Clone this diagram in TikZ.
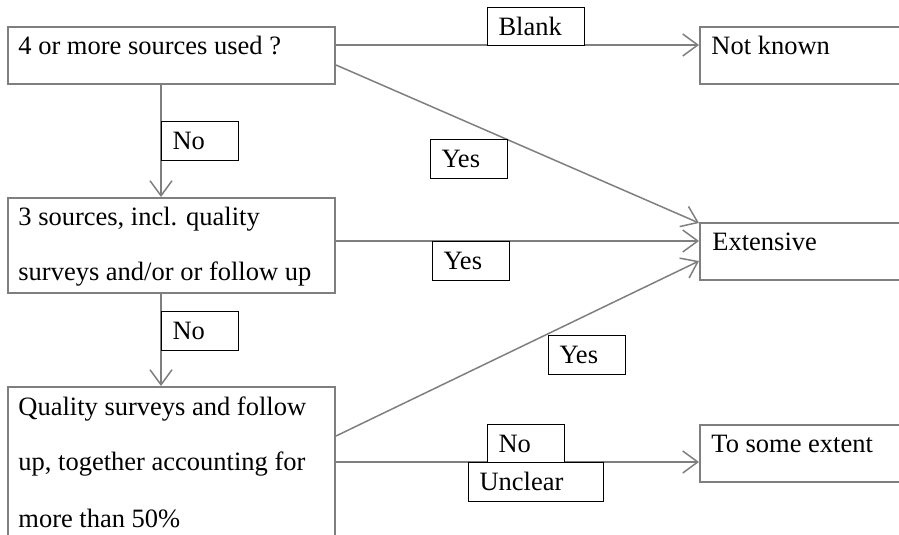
\documentclass[tikz,border=0pt]{standalone}
\usepackage{fontspec}
\setmainfont{Liberation Serif}
\usetikzlibrary{arrows.meta,calc}
\definecolor{edgegray}{HTML}{7F7F7F}
\begin{document}
\begin{tikzpicture}[x=0.5pt,y=-0.5pt,
  every node/.style={font=\fontsize{13.25pt}{15pt}\selectfont},
  bigbox/.style={draw=edgegray,line width=1pt,rectangle,anchor=north west,inner sep=0pt},
  txt/.style={anchor=base west,inner sep=0pt},
  tag/.style={draw=black,line width=0.5pt,fill=white,rectangle,anchor=north west,
    inner xsep=5.5pt,inner ysep=0pt,text height=14pt,text depth=5.25pt,
    align=left,text width=#1},
  conn/.style={draw=edgegray,line width=0.75pt,
    -{Straight Barb[length=7.5pt,width=11pt,line width=0.75pt]}}]
\useasboundingbox (0,0) rectangle (899,535);
\begin{scope}
\clip (0,0) rectangle (899,535);

% decision boxes (left column)
\node[bigbox,minimum width=163.5pt,minimum height=28.5pt] (A) at (7,26) {};
\node[bigbox,minimum width=163.5pt,minimum height=47.5pt] (B) at (7,197) {};
\node[bigbox,minimum width=163.5pt,minimum height=100pt] (C) at (7,386) {};

% outcome boxes (right column)
\node[bigbox,minimum width=200pt,minimum height=28.5pt] (NK) at (699,26) {};
\node[bigbox,minimum width=200pt,minimum height=28.5pt] (E) at (699,222) {};
\node[bigbox,minimum width=200pt,minimum height=28.5pt] (T) at (699,424) {};

% box texts
\node[txt] (tA) at ($(A.north west)+(11,29)$) {4 or more sources used ?};
\node[txt] (tB1) at ($(B.north west)+(11,28)$) {3 sources, incl. quality};
\node[txt] (tB2) at ($(B.north west)+(11,83)$) {surveys and/or or follow up};
\node[txt] (tC1) at ($(C.north west)+(11,29)$) {Quality surveys and follow};
\node[txt] (tC2) at ($(C.north west)+(11,84)$) {up, together accounting for};
\node[txt] (tC3) at ($(C.north west)+(11,141)$) {more than 50\%};
\node[txt] (tNK) at ($(NK.north west)+(12,29)$) {Not known};
\node[txt] (tE) at ($(E.north west)+(13,28)$) {Extensive};
\node[txt] (tT) at ($(T.north west)+(12,28)$) {To some extent};

% connectors
\draw[conn] ($(A.north east)+(0,19)$) -- ($(NK.north west)+(0,19)$);
\draw[conn] ($(A.north east)+(0,39)$) -- ($(E.north west)+(0,1)$);
\draw[conn] ($(A.south west)+(154,0)$) -- ($(B.north west)+(154,0)$);
\draw[conn] ($(B.north east)+(0,44)$) -- ($(E.north west)+(0,19)$);
\draw[conn] ($(B.south west)+(154,0)$) -- ($(C.north west)+(154,0)$);
\draw[conn] ($(C.north east)+(0,50)$) -- ($(E.north west)+(0,39)$);
\draw[conn] ($(C.north east)+(0,76)$) -- ($(T.north west)+(0,38)$);

% branch labels
\node[tag=37.5pt] (lBlank) at (487,7) {Blank};
\node[tag=27.5pt] (lNo1) at (161,121) {No};
\node[tag=27.5pt] (lYes1) at (430,139) {Yes};
\node[tag=27.5pt] (lYes2) at (432,241) {Yes};
\node[tag=27.5pt] (lNo2) at (161,311) {No};
\node[tag=27.5pt] (lYes3) at (548,335) {Yes};
\node[tag=27.5pt] (lNo3) at (487,424) {No};
\node[tag=56.5pt] (lUnclear) at (468,462) {Unclear};
\end{scope}
\end{tikzpicture}
\end{document}
